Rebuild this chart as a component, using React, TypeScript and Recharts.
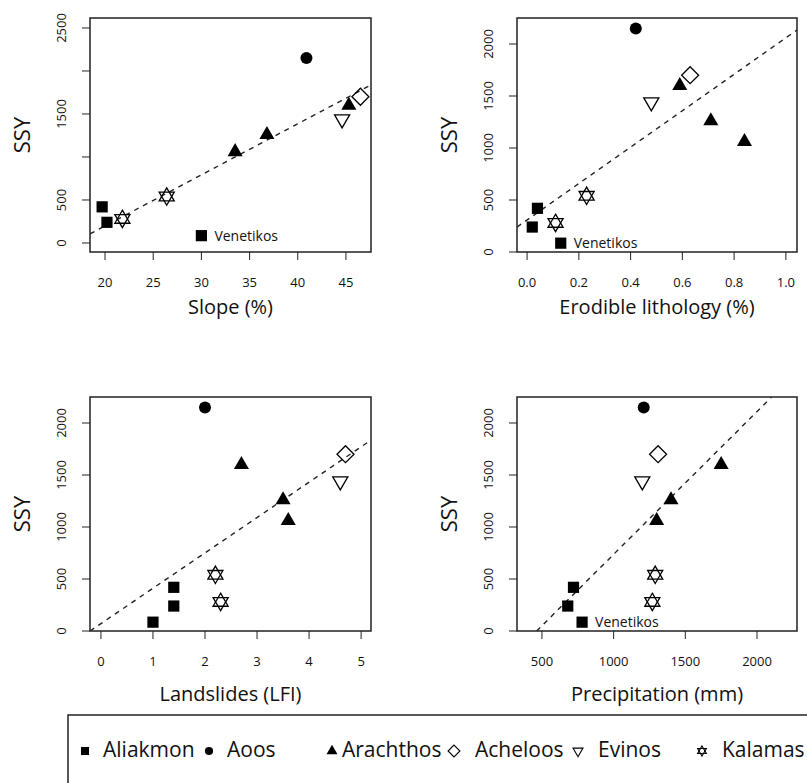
import { ScatterChart, Scatter, XAxis, YAxis, ReferenceArea } from 'recharts'

const FONT = "'Open Sans', 'Noto Sans', sans-serif"
const INK = '#222'

// stations, same order in every panel
const RIVERS = ['Aliakmon', 'Aoos', 'Arachthos', 'Acheloos', 'Evinos', 'Kalamas']
const STATION_RIVER = ['Aliakmon', 'Aliakmon', 'Aliakmon', 'Aoos', 'Arachthos', 'Arachthos', 'Arachthos', 'Acheloos', 'Evinos', 'Kalamas', 'Kalamas']
const STATION_NAME = ['', '', 'Venetikos', '', '', '', '', '', '', '', '']
const SSY = [420, 240, 85, 2150, 1060, 1260, 1600, 1700, 1440, 280, 540]

const SLOPE = [19.7, 20.2, 30.0, 40.9, 33.5, 36.8, 45.3, 46.5, 44.6, 21.8, 26.4]
const LITHOLOGY = [0.04, 0.02, 0.13, 0.42, 0.84, 0.71, 0.59, 0.63, 0.48, 0.11, 0.23]
const LANDSLIDES = [1.4, 1.4, 1.0, 2.0, 3.6, 3.5, 2.7, 4.7, 4.6, 2.3, 2.2]
const PRECIP = [720, 680, 780, 1210, 1300, 1400, 1750, 1310, 1200, 1270, 1290]

// dashed regression lines: SSY = a + b * x
const FIT_A = [-990, 308, 71, -636]
const FIT_B = [59.4, 1751, 340, 1.373]

const X_TITLES = ['Slope (%)', 'Erodible lithology (%)', 'Landslides (LFI)', 'Precipitation (mm)']
const X_TICKS = [[20, 25, 30, 35, 40, 45], [0, 0.2, 0.4, 0.6, 0.8, 1.0], [0, 1, 2, 3, 4, 5], [500, 1000, 1500, 2000]]
const X_TICK_LABELS = [['20', '25', '30', '35', '40', '45'], ['0.0', '0.2', '0.4', '0.6', '0.8', '1.0'], ['0', '1', '2', '3', '4', '5'], ['500', '1000', '1500', '2000']]
const X_DOMAINS = [[18.44, 47.6], [-0.039, 1.043], [-0.21, 5.19], [326, 2279]]

const Y_TICKS = [[0, 500, 1000, 1500, 2000, 2500], [0, 500, 1000, 1500, 2000], [0, 500, 1000, 1500, 2000], [0, 500, 1000, 1500, 2000]]
const Y_TICK_LABELS = [['0', '500', '', '1500', '', '2500'], ['0', '500', '1000', '1500', '2000'], ['0', '500', '1000', '1500', '2000'], ['0', '500', '1000', '1500', '2000']]
const Y_DOMAINS = [[-105, 2616], [0, 2250], [0, 2250], [0, 2250]]
const SHOW_NAME = [true, true, false, true]

const X_VALUES = [SLOPE, LITHOLOGY, LANDSLIDES, PRECIP]

// plot boxes on the page: left, right, top, bottom
const BOXES = [[90, 371, 18, 252], [517, 797, 18, 252], [90, 371, 397, 631], [517, 797, 397, 631]]
const FRAMES = [[0, 0, 400, 340], [400, 0, 407, 340], [0, 340, 400, 340], [400, 340, 407, 340]]
const TITLE_Y = [306, 306, 693, 693]

const LEGEND_MARK_X = [85, 209, 332, 454, 578, 702]
const LEGEND_TEXT_X = [103, 227, 342, 475, 598, 722]
const LEGEND_MARK_K = [0.72, 0.68, 0.73, 0.7, 0.66, 0.58]

function Marker({ river, cx, cy, k = 1 }: { river: string; cx: number; cy: number; k?: number }) {
  const sw = k < 1 ? 1.1 : 1.3
  if (river === 'Aliakmon') {
    const h = 5.6 * k
    return <rect x={cx - h} y={cy - h} width={2 * h} height={2 * h} fill="#000" />
  }
  if (river === 'Aoos') return <circle cx={cx} cy={cy} r={6 * k} fill="#000" />
  const r = 8.7 * k
  const up = `${cx},${cy - r} ${cx + r * 0.866},${cy + r / 2} ${cx - r * 0.866},${cy + r / 2}`
  const down = `${cx},${cy + r} ${cx + r * 0.866},${cy - r / 2} ${cx - r * 0.866},${cy - r / 2}`
  if (river === 'Arachthos') return <polygon points={up} fill="#000" />
  if (river === 'Acheloos') {
    const d = 8.5 * k
    return <polygon points={`${cx},${cy - d} ${cx + d},${cy} ${cx},${cy + d} ${cx - d},${cy}`} fill="none" stroke="#000" strokeWidth={sw} />
  }
  if (river === 'Evinos') return <polygon points={down} fill="none" stroke="#000" strokeWidth={sw} />
  return (
    <g fill="none" stroke="#000" strokeWidth={sw}>
      <polygon points={up} />
      <polygon points={down} />
    </g>
  )
}

function fitSegment(a: number, b: number, xd: number[], yd: number[]) {
  const x0 = Math.max(xd[0], (yd[0] - a) / b)
  const x1 = Math.min(xd[1], (yd[1] - a) / b)
  return [{ x: x0, y: a + b * x0 }, { x: x1, y: a + b * x1 }]
}

function Panel({ i }: { i: number }) {
  const [bl, br, bt, bb] = BOXES[i]
  const [fl, ft, fw, fh] = FRAMES[i]
  const yAxisW = 50
  const xAxisH = 40
  const margin = { left: bl - fl - yAxisW, right: fl + fw - br, top: bt - ft, bottom: ft + fh - bb - xAxisH }
  const xs = X_VALUES[i]
  const xLabels = X_TICK_LABELS[i]
  const yLabels = Y_TICK_LABELS[i]

  const series = RIVERS.map(river => ({
    river,
    data: xs.map((x, j) => ({ x, y: SSY[j], river: STATION_RIVER[j], name: SHOW_NAME[i] ? STATION_NAME[j] : '' }))
      .filter(d => d.river === river),
  }))
  const fit = fitSegment(FIT_A[i], FIT_B[i], X_DOMAINS[i], Y_DOMAINS[i])

  return (
    <div style={{ position: 'absolute', left: fl, top: ft }}>
      <ScatterChart width={fw} height={fh} margin={margin}>
        <XAxis type="number" dataKey="x" domain={X_DOMAINS[i]} ticks={X_TICKS[i]} allowDataOverflow
          height={xAxisH} axisLine={false} tickSize={8} tickMargin={0} tickLine={{ stroke: INK }}
          tick={(p: any) => (
            <text x={p.x} y={p.y + 27} textAnchor="middle" fontSize={13} fontFamily={FONT} fill="#111">
              {xLabels[X_TICKS[i].indexOf(p.payload.value)]}
            </text>
          )} />
        <YAxis type="number" dataKey="y" domain={Y_DOMAINS[i]} ticks={Y_TICKS[i]} allowDataOverflow
          width={yAxisW} axisLine={false} tickSize={8} tickMargin={0} tickLine={{ stroke: INK }}
          tick={(p: any) => (
            <text transform={`translate(${p.x - 16},${p.y}) rotate(-90)`} textAnchor="middle" fontSize={13} fontFamily={FONT} fill="#111">
              {yLabels[Y_TICKS[i].indexOf(p.payload.value)]}
            </text>
          )} />
        <ReferenceArea x1={X_DOMAINS[i][0]} x2={X_DOMAINS[i][1]} y1={Y_DOMAINS[i][0]} y2={Y_DOMAINS[i][1]}
          fill="none" fillOpacity={0} stroke={INK} strokeWidth={1.5} />
        <Scatter data={fit} isAnimationActive={false} line={{ stroke: INK, strokeWidth: 1.4, strokeDasharray: '5 5' }}
          shape={() => <g />} />
        {series.map(s => (
          <Scatter key={s.river} data={s.data} isAnimationActive={false}
            shape={(p: any) => (
              <g>
                <Marker river={s.river} cx={p.cx} cy={p.cy} />
                {p.payload.name ? (
                  <text x={p.cx + 13} y={p.cy + 5} fontSize={14} fontFamily={FONT} fill="#111">{p.payload.name}</text>
                ) : null}
              </g>
            )} />
        ))}
      </ScatterChart>
    </div>
  )
}

export default function App() {
  return (
    <div style={{ position: 'absolute', left: 0, top: 0, width: 807, height: 783, overflow: 'hidden', background: '#fff', fontFamily: FONT }}>
      {[0, 1, 2, 3].map(i => <Panel key={i} i={i} />)}
      {BOXES.map(([bl, br, bt, bb], i) => (
        <div key={'t' + i}>
          <div style={{ position: 'absolute', left: (bl + br) / 2, top: TITLE_Y[i], transform: 'translate(-50%,-50%)', fontSize: 20, color: '#111', whiteSpace: 'nowrap' }}>
            {X_TITLES[i]}
          </div>
          <div style={{ position: 'absolute', left: bl - 69, top: (bt + bb) / 2, transform: 'translate(-50%,-50%) rotate(-90deg)', fontSize: 22, color: '#111', whiteSpace: 'nowrap' }}>
            SSY
          </div>
        </div>
      ))}
      <svg style={{ position: 'absolute', left: 0, top: 0 }} width={807} height={783}>
        <rect x={68} y={715} width={800} height={120} fill="none" stroke={INK} strokeWidth={1.5} />
        {RIVERS.map((r, j) => (
          <g key={r}>
            <Marker river={r} cx={LEGEND_MARK_X[j]} cy={751} k={LEGEND_MARK_K[j]} />
            <text x={LEGEND_TEXT_X[j]} y={757} fontSize={21} fontFamily={FONT} fill="#111">{r}</text>
          </g>
        ))}
      </svg>
    </div>
  )
}
